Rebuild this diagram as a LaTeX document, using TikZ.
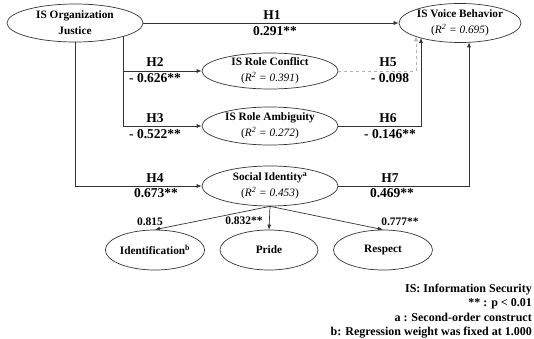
\documentclass[tikz,border=0pt]{standalone}
\usepackage{fontspec}
\setmainfont{Liberation Serif}
\usetikzlibrary{shapes.geometric,arrows.meta}

% R^2 标注
\newcommand{\rsq}[1]{{\normalfont(\textit{R\textsuperscript{2} = #1})}}

\begin{document}
\begin{tikzpicture}[
        x=1pt, y=-1pt, % 以像素为单位，y 轴向下
        % 潜变量（椭圆）
        latent/.style={ellipse, draw=black!80, line width=0.7pt, inner xsep=0pt, inner ysep=-6pt,
            align=center, font=\bfseries\fontsize{11.3}{16}\selectfont},
        % 路径箭头
        pathline/.style={draw=black!80, line width=0.7pt, -{Latex[length=5pt,width=4pt]}},
        % 路径系数
        coef/.style={inner sep=0pt, font=\bfseries\fontsize{13.5}{15}\selectfont},
        loading/.style={inner sep=0pt, font=\bfseries\fontsize{11.5}{13}\selectfont},
        note/.style={inner sep=0pt, anchor=base east, font=\bfseries\fontsize{12}{14}\selectfont}
    ]
    \useasboundingbox (0,0) rectangle (534,339);

    % --- 绘制潜变量 ---
    \node[latent, minimum width=136pt, minimum height=38pt] (oj) at (75,23) {IS Organization\\Justice};
    \node[latent, minimum width=120pt, minimum height=39pt] (vb) at (460,23) {IS Voice Behavior\\\rsq{0.695}};
    \node[latent, minimum width=136pt, minimum height=36pt] (rc) at (270,71) {IS Role Conflict\\\rsq{0.391}};
    \node[latent, minimum width=136pt, minimum height=38pt] (ra) at (270,126) {IS Role Ambiguity\\\rsq{0.272}};
    \node[latent, minimum width=136pt, minimum height=40pt] (si) at (270,186) {Social Identity\textsuperscript{a}\\\rsq{0.453}};
    \node[latent, minimum width=98pt, minimum height=40pt] (idf) at (155,250) {Identification\textsuperscript{b}};
    \node[latent, minimum width=98pt, minimum height=40pt] (pr) at (269,250) {Pride};
    \node[latent, minimum width=99pt, minimum height=40pt] (rs) at (383,250) {Respect};

    % --- 连线的端点（椭圆边界上） ---
    \coordinate (ojr) at (123,36.5);
    \coordinate (vb5) at (416,36.3);
    \coordinate (vb6) at (421,37.8);
    \coordinate (vb7) at (469,42.3);

    % --- 结构路径 ---
    \draw[pathline] (oj.east) -- (vb.west);
    \draw[pathline] (ojr) |- (rc.west);
    \draw[pathline] (ojr) |- (ra.west);
    \draw[pathline] (oj.south) |- (si.west);
    \draw[pathline, draw=black!30, dashed] (rc.east) -| (vb5); % 不显著
    \draw[pathline] (ra.east) -| (vb6);
    \draw[pathline] (si.east) -| (vb7);

    % --- 测量路径 ---
    \draw[pathline] (si.south) -- (idf.north);
    \draw[pathline] (si.south) -- (pr.north);
    \draw[pathline] (si.south) -- (rs.north);

    % --- 路径系数 ---
    \node[coef] (h1) at (272,15) {H1};
    \node[coef] (b1) at (275,31) {0.291**};
    \node[coef] (h2) at (155,62) {H2};
    \node[coef] (b2) at (155,78) {- 0.626**};
    \node[coef] (h3) at (155,118) {H3};
    \node[coef] (b3) at (155,134) {- 0.522**};
    \node[coef] (h4) at (155,178) {H4};
    \node[coef] (b4) at (156,193) {0.673**};
    \node[coef] (h5) at (388,62) {H5};
    \node[coef] (b5) at (390,78) {- 0.098};
    \node[coef] (h6) at (388,118) {H6};
    \node[coef] (b6) at (390,134) {- 0.146**};
    \node[coef] (h7) at (390,178) {H7};
    \node[coef] (b7) at (392,193) {0.469**};

    % --- 因子载荷 ---
    \node[loading] (l1) at (150,222) {0.815};
    \node[loading] (l2) at (244,221) {0.832**};
    \node[loading] (l3) at (400,222) {0.777**};

    % --- 注释 ---
    \node[note] (n1) at (532,292) {IS: Information Security};
    \node[note] (n2) at (532,306.5) {** : p < 0.01};
    \node[note] (n3) at (532,321) {a : Second-order construct};
    \node[note] (n4) at (532,335.5) {b: Regression weight was fixed at 1.000};

\end{tikzpicture}
\end{document}
